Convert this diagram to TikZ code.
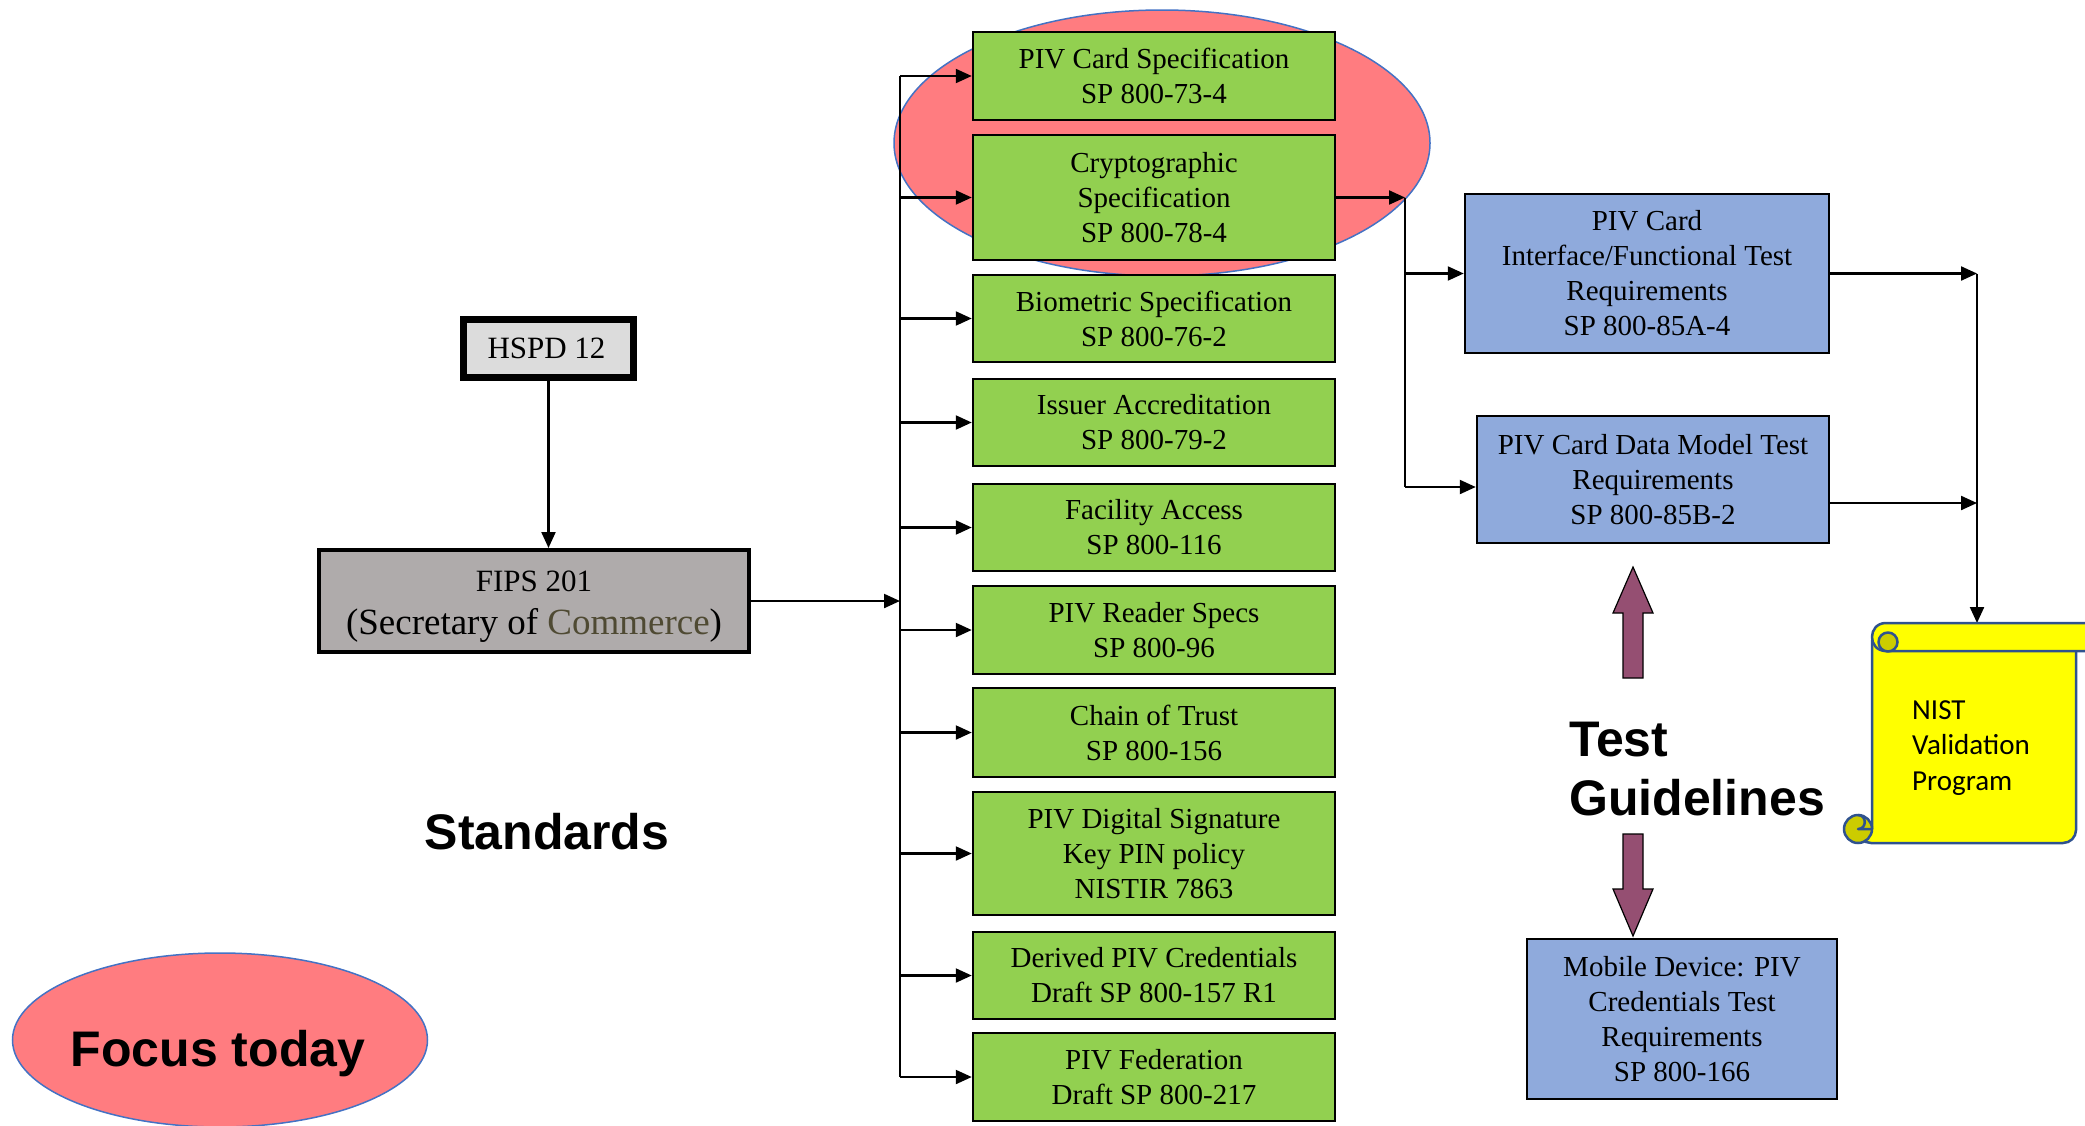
\documentclass[tikz,border=0pt]{standalone}
\usepackage{fontspec}
\setmainfont{Liberation Serif}
\setsansfont{Liberation Sans}
\newfontfamily\calibri{Carlito}
\usetikzlibrary{arrows.meta,shapes.geometric}

\definecolor{specgreen}{HTML}{92D050}
\definecolor{testblue}{HTML}{8FAADC}
\definecolor{fipsgray}{HTML}{AFABAB}
\definecolor{hspdgray}{HTML}{DCDCDC}
\definecolor{focusred}{HTML}{FF7C80}
\definecolor{outlineblue}{HTML}{4472C4}
\definecolor{mauve}{HTML}{954F72}
\definecolor{scrollyellow}{HTML}{FFFF00}
\definecolor{curlyellow}{HTML}{CCCC00}
\definecolor{scrollblue}{HTML}{2F528F}
\definecolor{commerce}{HTML}{4F4A33}

\begin{document}
\begin{tikzpicture}[x=1pt,y=-1pt,
  conn/.style={line width=2.2pt},
  arr/.style={line width=2.2pt,-{Triangle[length=16pt,width=14pt]}},
  spec/.style={draw=black,line width=2.5pt,fill=specgreen,minimum width=362pt,
    inner sep=0pt,align=center,font=\fontsize{29}{35}\selectfont},
  testreq/.style={draw=black,line width=2.5pt,fill=testblue,inner sep=0pt,
    align=center,font=\fontsize{29}{35}\selectfont},
  biglabel/.style={font=\sffamily\bfseries\fontsize{50}{59}\selectfont,inner sep=0pt},
  highlight/.style={ellipse,draw=outlineblue,line width=1.5pt,fill=focusred,inner sep=0pt},
  scrolledge/.style={draw=scrollblue,line width=2.5pt,line join=round},
  fat/.style={fill=mauve,draw=black,line width=1.2pt,line join=miter}]

\useasboundingbox (0,0) rectangle (2085,1125);

% highlight behind the first two specifications
\node[highlight,minimum width=536pt,minimum height=266pt] (focusarea) at (1162,143) {};

% policy and standard
\node[draw=black,line width=7.5pt,fill=hspdgray,minimum width=170pt,minimum height=58pt,
  inner sep=0pt,font=\fontsize{31}{37}\selectfont] (hspd) at (548.5,348.5) {HSPD 12\hspace*{4pt}};
\node[draw=black,line width=4pt,fill=fipsgray,minimum width=430pt,minimum height=102pt,
  inner sep=0pt,align=center,font=\fontsize{37}{43}\selectfont] (fips) at (534,601)
  {{\fontsize{31}{37}\selectfont\rule{0pt}{31pt}FIPS 201}\\(Secretary of \textcolor{commerce}{Commerce})};

% specifications
\node[spec,minimum height=88pt]  (g1)  at (1154,76)    {PIV Card Specification\\SP 800-73-4};
\node[spec,minimum height=125pt] (g2)  at (1154,197.5) {Cryptographic\\Specification\\SP 800-78-4};
\node[spec,minimum height=87pt]  (g3)  at (1154,318.5) {Biometric Specification\\SP 800-76-2};
\node[spec,minimum height=87pt]  (g4)  at (1154,422.5) {Issuer Accreditation\\SP 800-79-2};
\node[spec,minimum height=87pt]  (g5)  at (1154,527.5) {Facility Access\\SP 800-116};
\node[spec,minimum height=88pt]  (g6)  at (1154,630)   {PIV Reader Specs\\SP 800-96};
\node[spec,minimum height=89pt]  (g7)  at (1154,732.5) {Chain of Trust\\SP 800-156};
\node[spec,minimum height=123pt] (g8)  at (1154,853.5) {PIV Digital Signature\\Key PIN policy\\NISTIR 7863};
\node[spec,minimum height=87pt]  (g9)  at (1154,975.5) {Derived PIV Credentials\\Draft SP 800-157 R1};
\node[spec,minimum height=88pt]  (g10) at (1154,1077)  {PIV Federation\\Draft SP 800-217};

% test requirements
\node[testreq,minimum width=364pt,minimum height=159pt] (b1) at (1647,273.5)
  {PIV Card\\Interface/Functional Test\\Requirements\\SP 800-85A-4};
\node[testreq,minimum width=352pt,minimum height=127pt] (b2) at (1653,479.5)
  {PIV Card Data Model Test\\Requirements\\SP 800-85B-2};
\node[testreq,minimum width=310pt,minimum height=160pt] (b3) at (1682,1019)
  {Mobile Device: PIV\\Credentials Test\\Requirements\\SP 800-166};

% connector columns
\coordinate (bus) at (900,0);
\coordinate (jn) at (1405,0);
\coordinate (rj) at (1977,0);
\coordinate (scrolltop) at (1977,623);

\draw[arr] (hspd.south) -- (hspd.south |- fips.north);
\draw[arr] (fips.east) -- (fips.east -| bus);
\draw[conn] (g1.west -| bus) -- (g10.west -| bus);
\foreach \g in {g1,g2,g3,g4,g5,g6,g7,g8,g9,g10}
  \draw[arr] (\g.west -| bus) -- (\g.west);

\draw[arr] (g2.east) -- (g2.east -| jn);
\draw[conn] (g2.east -| jn) -- ([yshift=-7.5pt]b2.west -| jn);
\draw[arr] (b1.west -| jn) -- (b1.west);
\draw[arr] ([yshift=-7.5pt]b2.west -| jn) -- ([yshift=-7.5pt]b2.west);

\draw[arr] (b1.east) -- (b1.east -| rj);
\draw[arr] ([yshift=-23.5pt]b2.east) -- ([yshift=-23.5pt]b2.east -| rj);
\draw[arr] (b1.east -| rj) -- (scrolltop);

% validation scroll
\draw[scrolledge,fill=scrollyellow] (1872,640) -- (2076,640) [rounded corners=13pt]
  -- (2076,843) -- (1858,843) [sharp corners] -- (1858,829) -- (1872,829) -- cycle;
\draw[scrolledge,fill=curlyellow] (1858,829) circle[radius=14];
\draw[scrolledge] (1858,815) .. controls (1867,815) and (1867,829) .. (1858,829) -- (1872,829);
\draw[scrolledge,fill=scrollyellow] (2095,623) -- (1886,623)
  .. controls (1867.3,623) and (1867.3,651) .. (1886,651) -- (2095,651);
\draw[scrolledge,fill=curlyellow] (1888,642) circle[radius=9.5];
\draw[scrolledge] (1888,651) -- (2095,651);
\draw[scrolledge] (1872,651) -- (1872,829);
\node[font=\calibri\fontsize{29}{35.5}\selectfont,align=left,anchor=north west,inner sep=0pt]
  (nist) at (1912,700) {NIST\\Validation\\Program};

% guideline arrows
\filldraw[fat] (1623,678) -- (1623,613) -- (1613,613) -- (1633,567) -- (1653,613)
  -- (1643,613) -- (1643,678) -- cycle;
\filldraw[fat] (1623,834) -- (1643,834) -- (1643,889) -- (1653,889) -- (1633,936)
  -- (1613,889) -- (1623,889) -- cycle;

% labels
\node[biglabel,anchor=base] (stdlabel) at (547,849) {Standards};
\node[biglabel,align=left,anchor=north west] (testlabel) at (1569,722) {Test\\Guidelines};

\node[highlight,minimum width=415pt,minimum height=174pt] (focus) at (220,1040) {};
\node[biglabel,anchor=base] (focustext) at (218,1066) {Focus today};

\end{tikzpicture}
\end{document}
